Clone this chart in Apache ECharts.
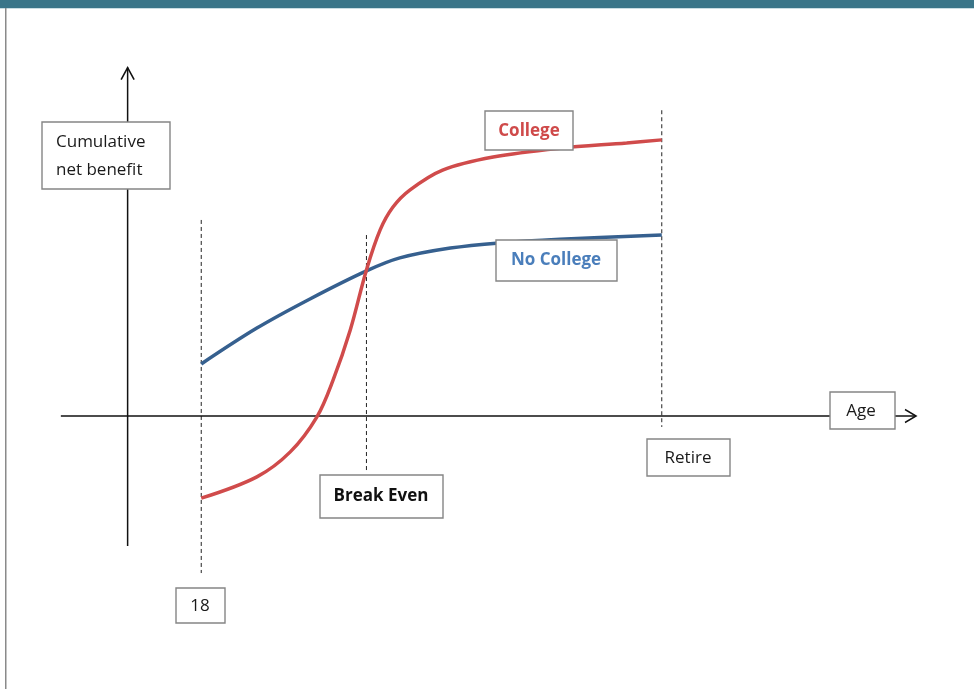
<!DOCTYPE html>
<html>
<head>
<meta charset="utf-8">
<script src="https://cdn.jsdelivr.net/npm/echarts@6/dist/echarts.min.js"></script>
<style>
  html, body { margin: 0; padding: 0; background: #fff; }
  #chart { width: 974px; height: 689px; }
</style>
</head>
<body>
<div id="chart"></div>
<script>
// abstract units: x = age scale, y = cumulative net benefit
const noCollegeAge = [16.5, 23.0, 29.2, 35.8, 39.7, 45.6, 51.4, 58.4, 70.3];
const noCollegeBenefit = [10.0, 16.9, 22.5, 27.9, 30.4, 32.3, 33.3, 34.0, 34.8];

const collegeAge = [16.5, 23.0, 26.9, 30.0, 31.9, 33.9, 35.8, 37.4, 38.9, 40.9, 44.7, 50.6, 58.4, 66.2, 70.3];
const collegeBenefit = [-15.8, -11.7, -6.9, -0.2, 6.9, 16.5, 28.1, 35.8, 40.2, 43.5, 47.3, 49.8, 51.5, 52.5, 53.1];

const guideNames = ['18', 'Break Even', 'Retire'];
const guideAge = [16.5, 35.8, 70.3];
const guideTop = [37.7, 34.8, 58.8];
const guideBottom = [-30.2, -10.6, -2.1];

const axisAgeRange = [0.1, 100];
const axisBenefitRange = [-25, 67];
const benefitAxisAge = 7.9;

const RED = '#d04b4b';
const BLUE = '#36608f';
const FONT = '"Open Sans"';

const chart = echarts.init(document.getElementById('chart'));

const pts = (xs, ys) => xs.map((x, i) => [x, ys[i]]);

const arrowRight = 'path://M0,0L11,6.5L0,13';
const arrowUp = 'path://M0,12L6.5,0L13,12';

const box = (x, y, w, h) => ({
  type: 'rect',
  shape: { x, y, width: w, height: h },
  style: { fill: '#fff', stroke: '#858585', lineWidth: 1.4 },
  z: 10,
});
const txt = (x, y, text, color, bold, align) => ({
  type: 'text',
  x, y,
  style: {
    text, fill: color || '#1a1a1a',
    font: (bold ? 'bold ' : '') + '17px ' + FONT,
    textAlign: align || 'center', textVerticalAlign: 'middle',
  },
  z: 11,
});

const guideSeries = guideNames.map((name, i) => ({
  name,
  type: 'line',
  clip: false,
  data: [[guideAge[i], guideTop[i]], [guideAge[i], guideBottom[i]]],
  symbol: 'none',
  lineStyle: { color: '#222', width: 1, type: [4, 3] },
  z: 2,
}));

chart.setOption({
  animation: false,
  backgroundColor: '#fff',
  grid: { left: 60, right: 58, top: 26, bottom: 143 },
  xAxis: { type: 'value', min: 0, max: 100, show: false },
  yAxis: { type: 'value', min: -25, max: 75, show: false },
  graphic: [
    { type: 'rect', shape: { x: 0, y: 0, width: 974, height: 8 }, style: { fill: '#3a7589' }, z: 0 },
    { type: 'rect', shape: { x: 0, y: 8, width: 974, height: 1 }, style: { fill: '#c9dde3' }, z: 0 },
    { type: 'rect', shape: { x: 5, y: 8, width: 1.5, height: 681 }, style: { fill: '#8a8a8a' }, z: 0 },
    box(42, 122, 128, 67),
    txt(56, 142, 'Cumulative', null, false, 'left'),
    txt(56, 170, 'net benefit', null, false, 'left'),
    box(485, 111, 88, 39),
    txt(529, 131, 'College', '#cf4a4a', true),
    box(496, 240, 121, 41),
    txt(556, 260, 'No College', '#4a7ebb', true),
    box(320, 475, 123, 43),
    txt(381, 496, 'Break Even', '#111', true),
    box(647, 439, 83, 37),
    txt(688, 458, 'Retire'),
    box(830, 392, 65, 37),
    txt(861, 411, 'Age'),
    box(176, 588, 49, 35),
    txt(200, 606, '18'),
  ],
  series: [
    {
      name: 'age axis',
      type: 'line',
      data: [
        { value: [axisAgeRange[0], 0], symbol: 'none' },
        { value: [axisAgeRange[1], 0], symbol: arrowRight, symbolSize: [11, 13], symbolOffset: [-5.5, 0] },
      ],
      lineStyle: { color: '#111', width: 1.5 },
      itemStyle: { color: 'transparent', borderColor: '#111', borderWidth: 1.5 },
      z: 3,
    },
    {
      name: 'benefit axis',
      type: 'line',
      data: [
        { value: [benefitAxisAge, axisBenefitRange[0]], symbol: 'none' },
        { value: [benefitAxisAge, axisBenefitRange[1]], symbol: arrowUp, symbolSize: [13, 12], symbolOffset: [0, 6] },
      ],
      lineStyle: { color: '#111', width: 1.5 },
      itemStyle: { color: 'transparent', borderColor: '#111', borderWidth: 1.5 },
      z: 3,
    },
    ...guideSeries,
    {
      name: 'No College',
      type: 'line',
      data: pts(noCollegeAge, noCollegeBenefit),
      smooth: 0.35,
      symbol: 'none',
      lineStyle: { color: BLUE, width: 3.5 },
      z: 4,
    },
    {
      name: 'College',
      type: 'line',
      data: pts(collegeAge, collegeBenefit),
      smooth: 0.35,
      symbol: 'none',
      lineStyle: { color: RED, width: 3.5 },
      z: 4,
    },
  ],
});
</script>
</body>
</html>
